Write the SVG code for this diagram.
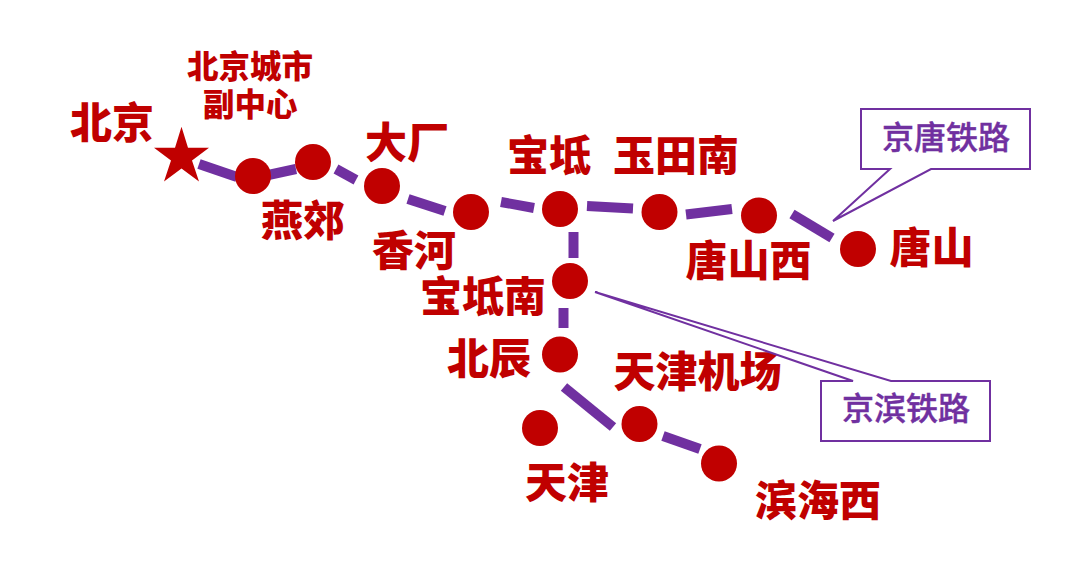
<svg xmlns="http://www.w3.org/2000/svg" width="1077" height="576" viewBox="0 0 1077 576">
<style>
.seg{stroke:#7030a0;stroke-width:10;fill:none}
.st{fill:#c00000}
text{font-family:"Noto Sans CJK SC","Noto Sans",sans-serif}
.lb{fill:#c00000;font-size:42px;font-weight:900}
.sm{fill:#c00000;font-size:31.500px;font-weight:900}
.co{fill:#fff;stroke:#7030a0;stroke-width:2}
.ct{fill:#7030a0;stroke:#7030a0;stroke-width:.4px;font-size:32px;font-weight:500}
</style>
<rect width="1077" height="576" fill="#fff"/>
<g id="connectors">
<line class="seg" x1="199" y1="164" x2="237" y2="177"/>
<line class="seg" x1="266" y1="175.500" x2="296" y2="169"/>
<line class="seg" x1="336" y1="169" x2="356" y2="180"/>
<line class="seg" x1="408" y1="199" x2="445" y2="211"/>
<line class="seg" x1="501" y1="202" x2="534" y2="208"/>
<line class="seg" x1="587" y1="206" x2="633" y2="208.500"/>
<line class="seg" x1="686" y1="214.500" x2="732" y2="209"/>
<line class="seg" x1="792" y1="214" x2="832" y2="238"/>
<line class="seg" x1="573.500" y1="232" x2="573.500" y2="258"/>
<line class="seg" x1="563.500" y1="308" x2="563.500" y2="328"/>
<line class="seg" x1="564" y1="387" x2="613" y2="427"/>
<line class="seg" x1="663" y1="436" x2="700" y2="449"/>
</g>
<g id="beijing"><polygon class="st" points="181.500,126.700 188,147.700 209,147.700 192,160.500 199,181.500 181.500,168.500 164,181.500 171,160.500 154,147.700 175,147.700"/><text class="lb" x="70" y="138">北京</text></g>
<g id="fuzhongxin"><text class="sm"><tspan x="187" y="78">北京城市</tspan><tspan x="203" y="116">副中心</tspan></text></g>
<g id="yanjiao"><circle class="st" cx="313" cy="162" r="18"/><circle class="st" cx="253" cy="176" r="18"/><text class="lb" x="261" y="236">燕郊</text></g>
<g id="dachang"><circle class="st" cx="382" cy="186" r="18"/><text class="lb" x="365" y="158">大厂</text></g>
<g id="xianghe"><circle class="st" cx="471" cy="212" r="18"/><text class="lb" x="372" y="266">香河</text></g>
<g id="baodi"><circle class="st" cx="560" cy="209" r="18"/><text class="lb" x="507" y="171">宝坻</text></g>
<g id="yutiannan"><circle class="st" cx="659.500" cy="212" r="18"/><text class="lb" x="613" y="171">玉田南</text></g>
<g id="tangshanxi"><circle class="st" cx="759" cy="215.500" r="18"/><text class="lb" x="685.500" y="276">唐山西</text></g>
<g id="tangshan"><circle class="st" cx="858" cy="249" r="18"/><text class="lb" x="889.500" y="263">唐山</text></g>
<g id="baodinan"><circle class="st" cx="570" cy="281" r="18"/><text class="lb" x="420" y="311.500">宝坻南</text></g>
<g id="beichen"><circle class="st" cx="560" cy="354.500" r="18"/><text class="lb" x="447" y="374">北辰</text></g>
<g id="tianjin"><circle class="st" cx="540" cy="428" r="18"/><text class="lb" x="525" y="497.500">天津</text></g>
<g id="tianjinjichang"><circle class="st" cx="639.500" cy="424" r="18"/><text class="lb" x="613.500" y="386.500">天津机场</text></g>
<g id="binhaixi"><circle class="st" cx="719" cy="463.500" r="18"/><text class="lb" x="755" y="516">滨海西</text></g>
<g id="jingtang"><polygon class="co" points="861,109 1030,109 1030,169 931,169 833,221 890,169 861,169"/><text class="ct" x="882" y="149">京唐铁路</text></g>
<g id="jingbin"><polygon class="co" points="821,381 853,381 595,292 891,381 990,381 990,441 821,441"/><text class="ct" x="842" y="420">京滨铁路</text></g>
</svg>
